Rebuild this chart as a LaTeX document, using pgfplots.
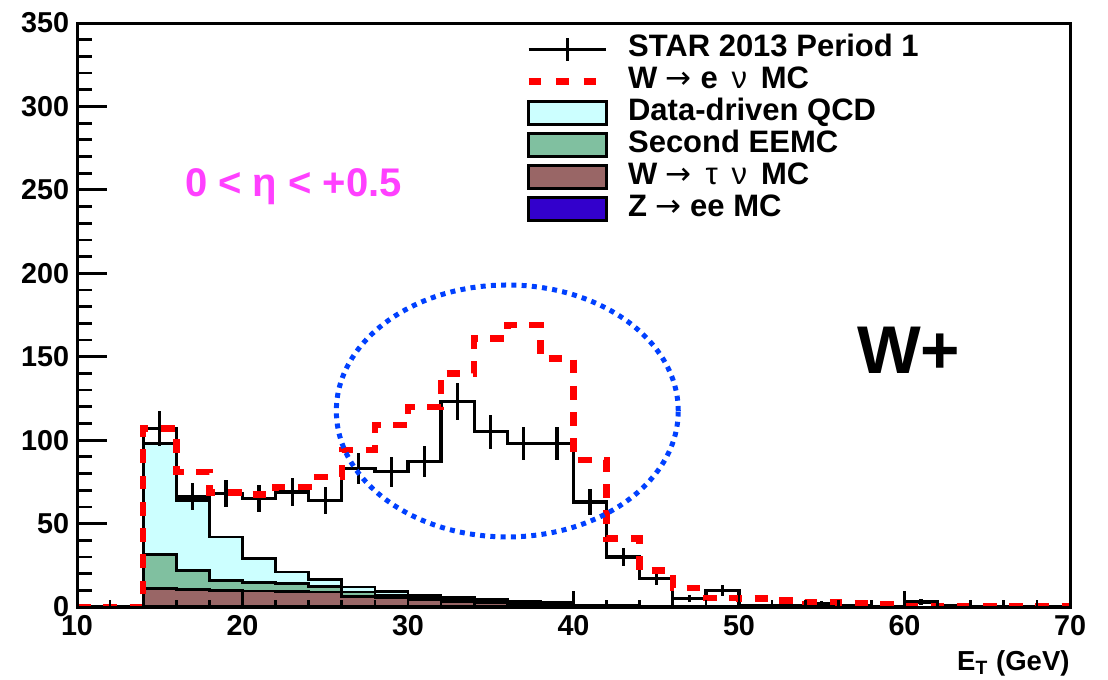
\documentclass[border=0pt]{standalone}
\usepackage{fontspec}
\setmainfont{Liberation Sans}
\newfontfamily\dejavu{DejaVu Sans}
\usepackage{pgfplots}
\usepackage{pgfplotstable}
\pgfplotsset{compat=1.18}

\definecolor{qcdcol}{HTML}{CCFFFF}
\definecolor{eemccol}{HTML}{80C0A0}
\definecolor{taucol}{HTML}{996666}
\definecolor{zcol}{HTML}{3300CC}
\definecolor{etacol}{HTML}{FF40FF}
\definecolor{ellcol}{HTML}{0040FF}

\newcommand{\arr}{{\dejavu\mdseries →}}

% bin left edges (2 GeV bins), stacked backgrounds are cumulative tops
\pgfplotstableread{
x  data err  mc   qcd  eemc tau  z
10 0    0    0    0    0    0    0
12 0    0    0    0    0    0    0
14 107  10.3 107  98   31.5 11   0.6
16 66   8.1  81   64   22   10.4 0.6
18 68   8.2  68.5 42   16   9.8  0.6
20 65   8.1  67.5 29   14.8 9.6  0.6
22 69   8.3  72   21   14   9.4  0.6
24 64   8.0  78   16.5 12.5 9    0.6
26 83   9.1  94   12   9    6.5  0.5
28 81   9.0  109  9.5  7    5.5  0.5
30 87   9.3  120  7    6    4.5  0.5
32 123  11.1 140  5.5  4    3    0.5
34 105  10.2 161  4.5  3.5  2.5  0.5
36 98   9.9  169  3.5  2.5  2    0.5
38 98   9.9  149  3    2    1.5  0.5
40 63   7.9  88   1.2  0.8  0.6  0.4
42 30   5.5  41   1    0.6  0.4  0.2
44 17   4.1  22   0.5  0.4  0.2  0.1
46 5    2.2  11.5 0.3  0.3  0.2  0.1
48 10   3.2  5.5  0.3  0.2  0.1  0
50 1    1.0  5    0.2  0.1  0.1  0
52 1    1.0  4    0.1  0.1  0    0
54 2    1.4  3    0.1  0    0    0
56 1    1.0  2    0    0    0    0
58 0    0    1.5  0    0    0    0
60 3    1.7  0.5  0    0    0    0
62 1    1.0  0.4  0    0    0    0
64 0    0    0.3  0    0    0    0
66 0    0    0.3  0    0    0    0
68 0    0    0.3  0    0    0    0
70 0    0    0.3  0    0    0    0
}\tab

\pgfplotsset{
  histo/.style={const plot, mark=none, draw=black, line width=1.1pt},
  boxlegend/.style={legend image code/.code={\draw[##1] (0pt,-4.6pt) rectangle (31pt,4.6pt);}},
  linelegend/.style={legend image code/.code={\draw[##1] (0pt,0pt) -- (31pt,0pt);}},
  datalegend/.style={legend image code/.code={\draw[##1] (0pt,0pt) -- (31pt,0pt);
      \draw[##1] (15.5pt,-4.5pt) -- (15.5pt,4.5pt);}},
}

\begin{document}
\begin{tikzpicture}
\useasboundingbox (-30.8pt,-28.8pt) rectangle (412.4pt,242.8pt);
\begin{axis}[
  at={(0pt,0pt)}, anchor=south west,
  scale only axis, width=397.2pt, height=233.6pt,
  xmin=10, xmax=70, ymin=0, ymax=350,
  xtick=\empty,
  ytick={0,50,...,350}, minor y tick num=4,
  tick align=inside, ytick pos=left,
  major tick length=12pt, minor tick length=6pt,
  axis line style={line width=1.2pt},
  every tick/.style={black, line width=1.1pt},
  /pgf/number format/assume math mode=true,
  yticklabel style={font=\bfseries\fontsize{11.5}{13}\selectfont, inner sep=0pt, xshift=-3pt},
  legend style={at={(rel axis cs:0.451,0.983)}, anchor=north west, draw=none, fill=none,
    inner sep=0pt, row sep=0pt,
    font=\bfseries\fontsize{12.4}{14}\selectfont,
    nodes={inner sep=0pt, text height=9.3pt, text depth=3.5pt},
    /tikz/every odd column/.append style={column sep=7.5pt}},
  legend cell align=left,
]
\addlegendimage{datalegend, black, line width=1.2pt}
\addlegendentry{STAR 2013 Period 1}
\addlegendimage{linelegend, red, line width=2.6pt, dash pattern=on 5pt off 6pt}
\addlegendentry{W \arr\ e \,{\mdseries ν} \,MC}
\addlegendimage{boxlegend, fill=qcdcol, draw=black, line width=1.2pt}
\addlegendentry{Data-driven QCD}
\addlegendimage{boxlegend, fill=eemccol, draw=black, line width=1.2pt}
\addlegendentry{Second EEMC}
\addlegendimage{boxlegend, fill=taucol, draw=black, line width=1.2pt}
\addlegendentry{W \arr\ \,{\mdseries τ} \,{\mdseries ν} \,MC}
\addlegendimage{boxlegend, fill=zcol, draw=black, line width=1.2pt}
\addlegendentry{Z \arr\ ee MC}

% stacked backgrounds (cumulative)
\addplot[histo, fill=qcdcol, forget plot] table[x=x, y=qcd]{\tab} \closedcycle;
\addplot[histo, fill=eemccol, forget plot] table[x=x, y=eemc]{\tab} \closedcycle;
\addplot[histo, fill=taucol, forget plot] table[x=x, y=tau]{\tab} \closedcycle;
\addplot[histo, fill=zcol, forget plot] table[x=x, y=z]{\tab} \closedcycle;
% data
\addplot[histo, line width=1.3pt, forget plot] table[x=x, y=data]{\tab};
\addplot[draw=none, mark=none, forget plot,
  error bars/.cd, y dir=both, y explicit, error mark=none,
  error bar style={draw=black, line width=1.3pt}]
  table[x expr=\thisrow{x}+1, y=data, y error=err]{\tab};
% W -> e nu MC
\addplot[const plot, mark=none, red, line width=2.6pt, dash pattern=on 5.5pt off 5pt, forget plot]
  table[x=x, y=mc]{\tab};

\draw[ellcol, line width=2pt, dash pattern=on 2pt off 2.1pt]
  (axis cs:36,117.5) ellipse [x radius=10.33, y radius=75.5];

\node[anchor=base west, text=etacol, inner sep=0pt,
  font=\bfseries\fontsize{16}{18}\selectfont] at (axis cs:16.5,246) {0 < η < +0.5};
\node[anchor=base west, inner sep=0pt,
  font=\bfseries\fontsize{27}{30}\selectfont] at (axis cs:57.1,140) {W+};
\end{axis}

\begin{axis}[
  at={(0pt,0pt)}, anchor=south west,
  scale only axis, width=397.2pt, height=233.6pt,
  xmin=10, xmax=70, ymin=0, ymax=350,
  ytick=\empty,
  xtick={10,20,...,70}, minor x tick num=4,
  tick align=inside, xtick pos=left,
  major tick length=6.4pt, minor tick length=3pt,
  axis line style={line width=1.2pt},
  every tick/.style={black, line width=1.1pt},
  /pgf/number format/assume math mode=true,
  xticklabel style={font=\bfseries\fontsize{11.5}{13}\selectfont, inner sep=0pt, yshift=-3pt},
  xlabel={E\textsubscript{T} (GeV)},
  xlabel style={at={(rel axis cs:1,0)}, anchor=base east, inner sep=0pt, yshift=-25.5pt,
    font=\bfseries\fontsize{11}{13}\selectfont},
]
\end{axis}
\end{tikzpicture}
\end{document}
